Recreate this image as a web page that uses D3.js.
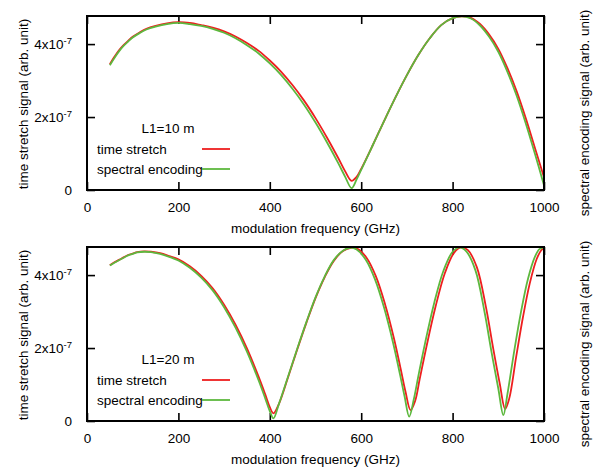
<!DOCTYPE html>
<html>
<head>
<meta charset="utf-8">
<script src="https://cdn.jsdelivr.net/npm/d3@7"></script>
<style>
    body { margin: 0; background: #ffffff; }
    svg text { font-family: "Liberation Sans", Arial, sans-serif; fill: #000000; }
</style>
</head>
<body>
<svg id="chart" width="597" height="471"></svg>
<script>

// Panel 1, L1=10 m
var freq_L10 = [50, 60, 70, 80, 90, 100, 115, 130, 150, 175, 200, 225, 250, 275, 300, 325, 350, 375, 400, 425, 450, 475, 500, 525, 550, 565, 579, 590, 600, 625, 650, 675, 700, 725, 750, 775, 800, 820, 840, 860, 880, 900, 920, 940, 960, 980, 1000];
var stretch_L10 = [3.45, 3.65, 3.83, 3.97, 4.09, 4.20, 4.32, 4.42, 4.50, 4.57, 4.60, 4.58, 4.52, 4.45, 4.35, 4.21, 4.03, 3.82, 3.55, 3.24, 2.87, 2.45, 1.97, 1.44, 0.87, 0.51, 0.25, 0.36, 0.58, 1.22, 1.89, 2.54, 3.15, 3.70, 4.16, 4.52, 4.71, 4.76, 4.72, 4.55, 4.26, 3.87, 3.34, 2.71, 1.97, 1.16, 0.35];
var encoding_L10 = [3.42, 3.62, 3.80, 3.95, 4.07, 4.18, 4.30, 4.40, 4.48, 4.55, 4.58, 4.55, 4.50, 4.42, 4.31, 4.16, 3.97, 3.75, 3.47, 3.15, 2.77, 2.34, 1.85, 1.31, 0.73, 0.36, 0.05, 0.29, 0.55, 1.22, 1.89, 2.54, 3.15, 3.70, 4.16, 4.52, 4.71, 4.76, 4.70, 4.51, 4.20, 3.79, 3.24, 2.59, 1.83, 1.00, 0.13];

// Panel 2, L1=20 m
var freq_Stretch_L20 = [50, 60, 75, 90, 100, 110, 125, 140, 160, 180, 200, 225, 250, 275, 300, 325, 350, 375, 390, 400, 408, 420, 440, 460, 480, 500, 520, 540, 560, 578, 592, 612, 632, 652, 672, 687, 697, 708, 718, 728, 743, 763, 783, 803, 818, 833, 853, 873, 888, 903, 915, 924, 939, 954, 969, 984, 994, 1000];
var stretch_L20 = [4.27, 4.35, 4.45, 4.55, 4.59, 4.63, 4.65, 4.64, 4.60, 4.52, 4.43, 4.24, 3.98, 3.64, 3.19, 2.64, 1.99, 1.23, 0.73, 0.38, 0.21, 0.47, 1.20, 1.96, 2.69, 3.37, 3.94, 4.39, 4.66, 4.75, 4.72, 4.47, 3.97, 3.21, 2.25, 1.39, 0.80, 0.30, 0.55, 1.15, 2.05, 3.15, 4.05, 4.61, 4.76, 4.69, 4.22, 3.12, 2.05, 1.04, 0.33, 0.62, 1.75, 2.85, 3.78, 4.44, 4.68, 4.74];
var freq_Encoding_L20 = [50, 60, 75, 90, 100, 110, 125, 140, 160, 180, 200, 225, 250, 275, 300, 325, 350, 375, 390, 400, 408, 420, 440, 460, 480, 500, 520, 540, 560, 576, 590, 610, 630, 650, 670, 685, 695, 705, 715, 725, 740, 760, 780, 800, 815, 830, 850, 870, 885, 900, 911, 920, 935, 950, 965, 980, 990, 1000];
var encoding_L20 = [4.26, 4.34, 4.44, 4.54, 4.58, 4.62, 4.64, 4.63, 4.58, 4.50, 4.40, 4.20, 3.93, 3.58, 3.12, 2.56, 1.90, 1.13, 0.62, 0.27, 0.07, 0.47, 1.22, 1.98, 2.71, 3.39, 3.96, 4.41, 4.67, 4.75, 4.70, 4.42, 3.89, 3.11, 2.13, 1.27, 0.67, 0.12, 0.59, 1.23, 2.15, 3.25, 4.12, 4.64, 4.76, 4.65, 4.13, 2.98, 1.90, 0.89, 0.16, 0.74, 1.93, 3.01, 3.90, 4.50, 4.71, 4.76];

var x_Ticks = [0, 200, 400, 600, 800, 1000];
var y_Ticks = [0, 2, 4];
var series_Names = ["time stretch", "spectral encoding"];
var series_Colors = ["#ee1f1f", "#5db83e"];

var panels =
[
    { top: 16, title: "L1=10 m", stretchX: freq_L10, stretch: stretch_L10, encodingX: freq_L10, encoding: encoding_L10 },
    { top: 247, title: "L1=20 m", stretchX: freq_Stretch_L20, stretch: stretch_L20, encodingX: freq_Encoding_L20, encoding: encoding_L20 }
];

var svg = d3.select("#chart");
var left = 87, right = 544, plotHeight = 174;
var fontSize = 13.5;

var x = d3.scaleLinear().domain([0, 1000]).range([left, right]);

function draw_Panel(p, index)
{
    var bottom = p.top + plotHeight;
    var y = d3.scaleLinear().domain([0, 4.77]).range([bottom, p.top]);
    var g = svg.append("g");

    g.append("clipPath").attr("id", "clip" + index)
        .append("rect")
        .attr("x", left).attr("y", p.top - 1)
        .attr("width", right - left).attr("height", plotHeight + 1);

    // ticks pointing inward on all four sides
    var axes =
    [
        [d3.axisBottom(x).tickValues(x_Ticks).tickSize(-8).tickPadding(12).tickFormat(d3.format("d")), "translate(0," + bottom + ")"],
        [d3.axisTop(x).tickValues(x_Ticks).tickSize(-8).tickFormat(""), "translate(0," + p.top + ")"],
        [d3.axisLeft(y).tickValues(y_Ticks).tickSize(-8).tickPadding(15), "translate(" + left + ",0)"],
        [d3.axisRight(y).tickValues(y_Ticks).tickSize(-8).tickFormat(""), "translate(" + right + ",0)"]
    ];
    axes.forEach(function(a, i)
    {
        var ax = g.append("g").attr("transform", a[1]).call(a[0]);
        ax.select(".domain").remove();
        ax.selectAll("line").attr("stroke", "#000").attr("stroke-width", 1.6);
        ax.selectAll("text").attr("font-size", fontSize).attr("font-family", "Liberation Sans, Arial, sans-serif");
        if (i == 2)
        {
            ax.selectAll("text").each(function(d)
            {
                var t = d3.select(this);
                t.text(null);
                if (d == 0)
                {
                    t.text("0");
                    return;
                }
                t.append("tspan").text(d + "x10");
                t.append("tspan").attr("font-size", 9.5).attr("dy", "-0.55em").text("-7");
            });
        }
    });

    var line = d3.line()
        .x(function(d) { return x(d[0]); })
        .y(function(d) { return y(d[1]); })
        .curve(d3.curveCatmullRom);

    var curves = [d3.zip(p.stretchX, p.stretch), d3.zip(p.encodingX, p.encoding)];
    curves.forEach(function(c, i)
    {
        g.append("path")
            .attr("d", line(c))
            .attr("clip-path", "url(#clip" + index + ")")
            .attr("fill", "none")
            .attr("stroke", series_Colors[i])
            .attr("stroke-width", 1.8);
    });

    // frame
    g.append("rect")
        .attr("x", left).attr("y", p.top)
        .attr("width", right - left).attr("height", plotHeight)
        .attr("fill", "none").attr("stroke", "#000").attr("stroke-width", 2);

    // key
    g.append("text")
        .attr("x", 168).attr("y", bottom - 57)
        .attr("text-anchor", "middle").attr("font-size", fontSize)
        .text(p.title);
    series_Names.forEach(function(name, i)
    {
        var ky = bottom - 41 + i * 20;
        g.append("text")
            .attr("x", 97).attr("y", ky + 5)
            .attr("font-size", fontSize)
            .text(name);
        g.append("line")
            .attr("x1", 202).attr("x2", 230)
            .attr("y1", ky).attr("y2", ky)
            .attr("stroke", series_Colors[i]).attr("stroke-width", 1.8);
    });

    // axis titles
    g.append("text")
        .attr("x", (left + right) / 2).attr("y", bottom + 43)
        .attr("text-anchor", "middle").attr("font-size", fontSize)
        .text("modulation frequency (GHz)");
    g.append("text")
        .attr("transform", "translate(28," + (p.top + plotHeight / 2 + 1) + ") rotate(-90)")
        .attr("text-anchor", "middle").attr("font-size", fontSize)
        .text("time stretch signal (arb. unit)");
    g.append("text")
        .attr("transform", "translate(589," + (p.top + plotHeight / 2 + 10) + ") rotate(-90)")
        .attr("text-anchor", "middle").attr("font-size", fontSize)
        .text("spectral encoding signal (arb. unit)");
}

panels.forEach(draw_Panel);
</script>
</body>
</html>
